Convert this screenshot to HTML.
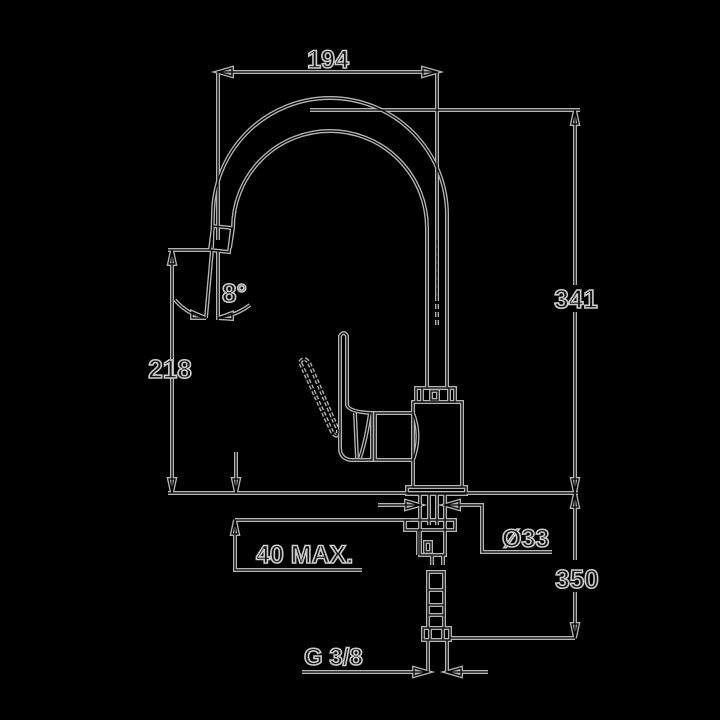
<!DOCTYPE html>
<html><head><style>
html,body{margin:0;padding:0;background:#000;}
svg{display:block}
text{font-family:"Liberation Sans",sans-serif;font-weight:bold;fill:#111;stroke:#ccc;stroke-width:1.6;}
</style></head><body>
<svg width="720" height="720" viewBox="0 0 720 720">
<defs>
<g id="d" fill="none">
<path d="M218 72H437M218 72V240M437 72V300"/>
<path d="M218 72l14 -4v8zM437 72l-14 -4v8z"/>
<path d="M310 110H580"/>
<path d="M212 248L213 215A117 117 0 0 1 447 215V388"/>
<path d="M230 248L233 228A97 97 0 0 1 427 228V388"/>
<path d="M437 240V325" stroke-dasharray="5 3"/>
<path d="M213 226L232 228L229 252L210 250Z"/>
<path d="M168 250H212M172 250V493"/>
<path d="M172 250l-3 14h6zM172 493l-3 -14h6z"/>
<path d="M236 452V493M236 493l-3 -14h6z"/>
<path d="M212 250L206 318M218 250V320"/>
<path d="M175 300Q188 315 206 318M218 318Q235 316 250 305"/>
<path d="M206 318l-14 -6v6zM218 318l14 -5v6z"/>
<path d="M168 493H578"/>
<path d="M575 110V285M575 312V493M575 110l-3 14h6zM575 493l-3 -14h6z"/>
<path d="M416 388H455V402H416ZM422 388V402M449 388V402M431 391h7v9h-7z"/>
<path d="M413 402H462V487H413Z"/>
<path d="M407 487H466V494H407Z"/>
<path d="M375 413H413Q422 436 413 460H375Z"/>
<path d="M340 336Q344 330 347 336V405Q349 412 372 413V460H350Q340 458 340 448Z"/>
<path d="M355 413L357 458M370 413Q366 440 360 458"/>
<path d="M300 362Q305 355 310 365L338 430Q338 440 332 432Z" stroke-dasharray="4 2"/>
<path d="M420 494V555H445V494M429 494V525M437 494V525"/>
<path d="M405 520H455V530H405Z"/>
<path d="M418 530V555M425 542h6v10h-6z"/>
<path d="M432 555V565M443 555V565"/>
<path d="M428 572H444V628H428ZM428 590H444M428 605H444M428 615H444"/>
<path d="M423 628H450V640H423ZM430 628V640M443 628V640"/>
<path d="M428 640V672M447 640V672"/>
<path d="M302 672H428M447 672H488M428 672l-14 -4v8zM447 672l14 -4v8z"/>
<path d="M378 505H420M445 505H482V552H552M420 505l-14 -4v8zM445 505l14 -4v8z"/>
<path d="M235 520H410M235 520V570H362M235 520l-3 14h6z"/>
<path d="M575 493V560M575 592V638M450 638H575M575 493l-3 14h6zM575 638l-3 -14h6z"/>
</g>
</defs>
<use href="#d" stroke="#b5b5b5" stroke-width="4"/>
<use href="#d" stroke="#000" stroke-width="1.3"/>
<text x="328" y="68" font-size="25" text-anchor="middle">194</text>
<text x="576" y="308" font-size="26" text-anchor="middle">341</text>
<text x="170" y="378" font-size="26" text-anchor="middle">218</text>
<text x="222" y="302" font-size="26">8°</text>
<text x="256" y="563" font-size="25">40 MAX.</text>
<text x="502" y="547" font-size="25">Ø33</text>
<text x="577" y="588" font-size="26" text-anchor="middle">350</text>
<text x="304" y="665" font-size="24">G 3/8</text>
</svg>
</body></html>
